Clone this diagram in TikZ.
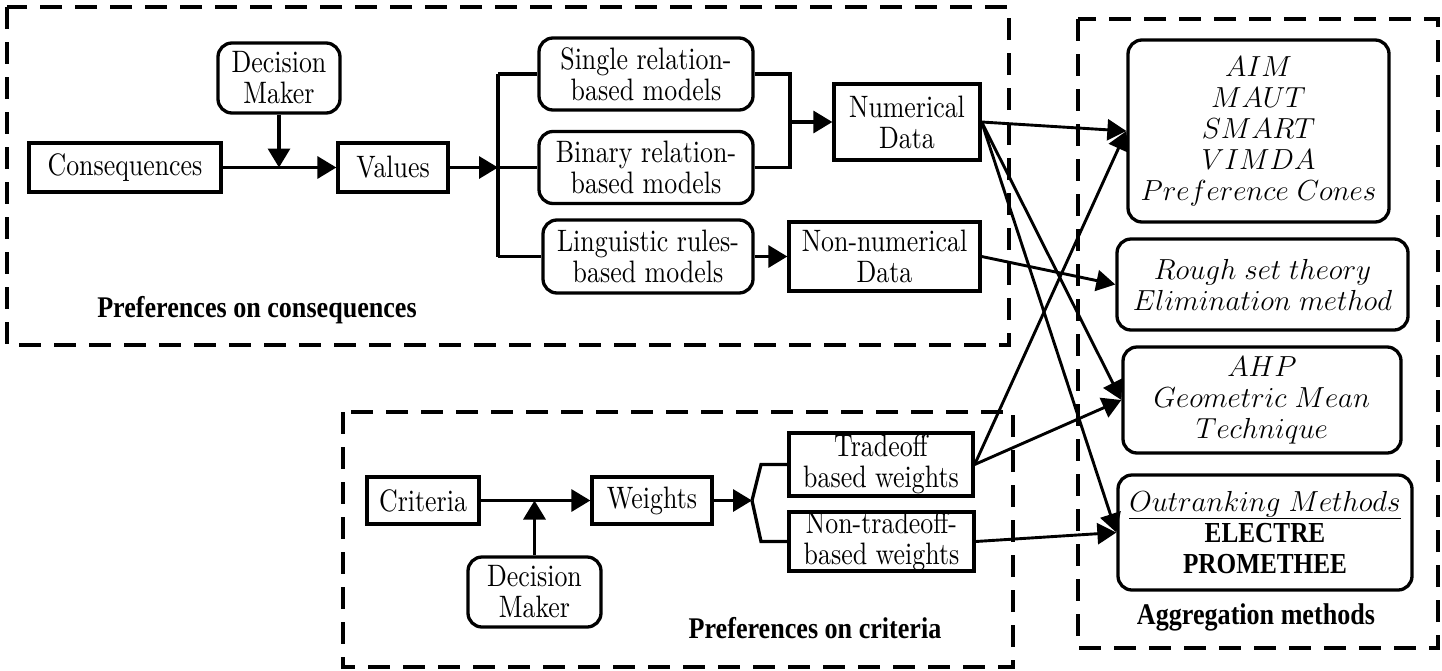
\RequirePackage{fix-cm}
\documentclass[tikz,border=0pt]{standalone}
\usepackage{fontspec}
\setmainfont{lmroman10}[Extension=.otf, UprightFont=*-regular, BoldFont=*-bold,
  ItalicFont=*-italic, BoldItalicFont=*-bolditalic, FakeStretch=0.835]
\newfontfamily\headfont{Liberation Serif}[FakeStretch=0.87]
\usetikzlibrary{arrows.meta}

\tikzset{
  box/.style={draw, line width=3.3pt, fill=white, inner sep=0pt, align=center,
    font=\fontsize{31}{31}\selectfont},
  rbox/.style={box, rounded corners=14pt},
  mbox/.style={rbox, font=\fontsize{29}{31}\selectfont},
  conn/.style={line width=3.3pt},
  arr/.style={conn, -{Triangle[length=19pt,width=22pt]}},
  darr/.style={line width=2.9pt, -{Triangle[length=19pt,width=21pt]}},
  grp/.style={line width=3.2pt, dash pattern=on 22pt off 13pt},
  lbl/.style={font=\headfont\bfseries\fontsize{30}{32}\selectfont, inner sep=0pt}
}

\begin{document}
\begin{tikzpicture}[x=1pt, y=-1pt, line join=miter]
\useasboundingbox (0,0) rectangle (1442,670);

% group frames
\draw[grp] (7,7) rectangle (1009,345);
\draw[grp] (343,412) rectangle (1013,667);
\draw[grp] (1078,19) rectangle (1438,648);

% preferences on consequences
\node[rbox, minimum width=122pt, minimum height=70pt] (dmA) at (279,78) {Decision\\Maker};
\node[box, minimum width=192pt, minimum height=49pt] (cons) at (125,167.5) {Consequences};
\node[box, minimum width=110pt, minimum height=49pt] (val) at (393,167.5) {Values};
\node[rbox, minimum width=214pt, minimum height=72pt] (single) at (646,74) {Single relation-\\based models};
\node[rbox, minimum width=214pt, minimum height=72pt] (binary) at (646,167.5) {Binary relation-\\based models};
\node[rbox, minimum width=210pt, minimum height=73pt] (ling) at (648,256.5) {Linguistic rules-\\based models};
\node[box, minimum width=146pt, minimum height=76pt] (num) at (907,122) {Numerical\\Data};
\node[box, minimum width=191pt, minimum height=69pt] (nonnum) at (884.5,256.5) {Non-numerical\\Data};
\node[lbl] (lcons) at (257,310) {Preferences on consequences};

\coordinate (jA) at (279,167.5);
\coordinate (bt) at (498,74);
\coordinate (bm) at (498,167.5);
\coordinate (bb) at (498,256.5);
\coordinate (mt) at (790,74);
\coordinate (mm) at (790,122);
\coordinate (mb) at (790,167.5);

\draw[arr] (cons) -- (val);
\draw[arr] (dmA) -- (jA);
\draw[arr] (val) -- (bm);
\draw[conn] (bt) -- (bb);
\draw[conn] (bt) -- (single.west);
\draw[conn] (bm) -- (binary.west);
\draw[conn] (bb) -- (ling.west);
\draw[conn] (single.east) -- (mt) -- (mb) -- (binary.east);
\draw[arr] (mm) -- (num);
\draw[arr] (ling) -- (nonnum);

% preferences on criteria
\node[box, minimum width=112pt, minimum height=47pt] (crit) at (423,500.5) {Criteria};
\node[box, minimum width=120pt, minimum height=47pt] (wts) at (652,500.5) {Weights};
\node[rbox, minimum width=133pt, minimum height=70pt] (dmB) at (534.5,592) {Decision\\Maker};
\node[box, minimum width=184pt, minimum height=63pt] (trade) at (881,464.5) {Tradeoff\\based weights};
\node[box, minimum width=185pt, minimum height=59pt] (nontrade) at (881.5,541.5) {Non-tradeoff-\\based weights};
\node[lbl] (lcrit) at (815,628) {Preferences on criteria};

\coordinate (jB) at (534.5,500.5);
\coordinate (fk) at (752,500.5);
\coordinate (fu) at (761,464.5);
\coordinate (fd) at (761,541.5);

\draw[arr] (crit) -- (wts);
\draw[arr] (dmB) -- (jB);
\draw[arr] (wts) -- (fk);
\draw[conn] (fk) -- (fu) -- (trade.west);
\draw[conn] (fk) -- (fd) -- (nontrade.west);

% aggregation methods
\node[mbox, minimum width=261pt, minimum height=182pt] (aim) at (1258.5,131)
  {$AIM$\\$MAUT$\\$SMART$\\$VIMDA$\\$Preference\ Cones$};
\node[mbox, minimum width=291pt, minimum height=91pt] (rough) at (1262.5,284.5)
  {$Rough\ set\ theory$\\$Elimination\ method$};
\node[mbox, minimum width=278pt, minimum height=106pt] (ahp) at (1262,400)
  {$AHP$\\$Geometric\ Mean$\\$Technique$};
\node[mbox, minimum width=294pt, minimum height=115pt] (outr) at (1265,532.5)
  {\underline{$Outranking\ Methods$}\\{\headfont\bfseries ELECTRE}\\{\headfont\bfseries PROMETHEE}};
\node[lbl] (lagg) at (1256,617) {Aggregation methods};

\draw[darr] (num.east) -- (aim.west);
\draw[darr] (num.east) -- (ahp.west);
\draw[darr] (num.east) -- (outr.west);
\draw[darr] (nonnum.east) -- (rough.west);
\draw[darr] (trade.east) -- (aim.west);
\draw[darr] (trade.east) -- (ahp.west);
\draw[darr] (nontrade.east) -- (outr.west);
\end{tikzpicture}
\end{document}
